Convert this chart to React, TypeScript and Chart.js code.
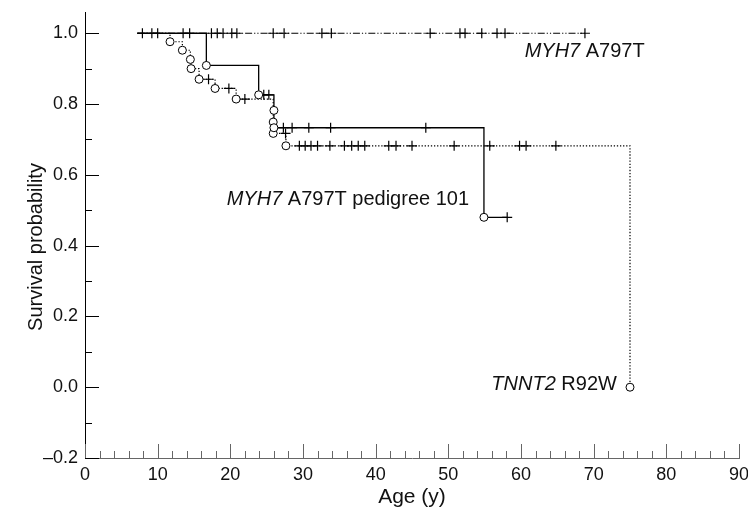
import React, { useEffect, useRef } from 'react';
import { Chart, registerables } from 'chart.js';

Chart.register(...registerables);

const FONT = "'Liberation Sans', Arial, Helvetica, sans-serif";

// Axis tick labels
const xTickValues = [0, 10, 20, 30, 40, 50, 60, 70, 80, 90];
const yTickValues = [-0.2, 0, 0.2, 0.4, 0.6, 0.8, 1.0];
const yTitle = 'Survival probability';
const xTitle = 'Age (y)';

// MYH7 A797T (all carriers): no events, survival stays at 1.0
const myh7Start = 7.2;
const myh7End = 68.8;
const myh7Censored = [7.9, 9.2, 10.0, 13.5, 14.4, 17.4, 18.2, 19.0, 20.2, 20.9, 25.9, 27.4, 32.6, 33.9, 47.5, 51.6, 52.3, 54.6, 56.7, 57.8, 68.8];

// MYH7 A797T pedigree 101
const pedStart = 7.2;
const pedEnd = 58.1;
const pedEventAges = [16.7, 23.9, 26.0, 26.0, 54.9];
const pedEventSurv = [0.909, 0.826, 0.782, 0.733, 0.48];
const pedCensored = [24.6, 25.3, 27.3, 28.5, 30.8, 33.8, 46.9, 58.1];

// TNNT2 R92W
const tnntStart = 7.2;
const tnntEventAges = [11.7, 13.4, 14.5, 14.6, 15.7, 17.9, 20.8, 25.9, 25.9, 27.65, 75.0];
const tnntEventSurv = [0.976, 0.952, 0.926, 0.9, 0.87, 0.844, 0.814, 0.749, 0.717, 0.682, 0.0];
const tnntCensored = [17.0, 19.8, 22.0, 27.6, 29.5, 30.3, 31.1, 32.0, 33.7, 35.7, 36.7, 37.6, 38.5, 41.8, 42.8, 45.0, 50.8, 55.7, 59.8, 60.7, 64.8];

// Text labels placed in data coordinates
const curveLabels = [
  { italic: 'MYH7', rest: ' A797T', x: 60.5, y: 0.932, align: 'left' },
  { italic: 'MYH7', rest: ' A797T pedigree 101', x: 19.5, y: 0.514, align: 'left' },
  { italic: 'TNNT2', rest: ' R92W', x: 73.2, y: -0.008, align: 'right' },
];

function survAt(t: number, ages: number[], surv: number[]) {
  let s = 1;
  for (let i = 0; i < ages.length; i++) if (ages[i] <= t) s = surv[i];
  return s;
}

function stepPoints(start: number, ages: number[], surv: number[], end?: number) {
  const pts = [{ x: start, y: 1 }];
  ages.forEach((a, i) => pts.push({ x: a, y: surv[i] }));
  if (end !== undefined && end > ages[ages.length - 1]) pts.push({ x: end, y: surv[surv.length - 1] });
  return pts;
}

const axisTicksPlugin = {
  id: 'axisTicks',
  afterDraw(chart: any) {
    const { ctx, chartArea, scales } = chart;
    const xs = scales.x;
    const ys = scales.y;
    ctx.save();
    // y ticks (inward)
    ctx.strokeStyle = '#000';
    ctx.lineWidth = 1;
    for (let i = 0; i <= 12; i++) {
      const v = -0.2 + i * 0.1;
      const py = Math.round(ys.getPixelForValue(v)) + 0.5;
      const len = i % 2 === 0 ? 14 : 7;
      ctx.beginPath();
      ctx.moveTo(chartArea.left, py);
      ctx.lineTo(chartArea.left + len, py);
      ctx.stroke();
    }
    // x ticks (inward)
    ctx.strokeStyle = '#666';
    for (let a = 0; a <= 90; a += 2) {
      const px = Math.round(xs.getPixelForValue(a)) + 0.5;
      const len = a % 10 === 0 ? 14 : 7;
      ctx.beginPath();
      ctx.moveTo(px, chartArea.bottom);
      ctx.lineTo(px, chartArea.bottom - len);
      ctx.stroke();
    }
    // y axis title
    ctx.fillStyle = '#111';
    ctx.font = `20px ${FONT}`;
    ctx.textAlign = 'center';
    ctx.textBaseline = 'alphabetic';
    ctx.save();
    ctx.translate(42, (chartArea.top + chartArea.bottom) / 2 + 12);
    ctx.rotate(-Math.PI / 2);
    ctx.fillText(yTitle, 0, 0);
    ctx.restore();
    // curve labels
    const itFont = `italic 20px ${FONT}`;
    const nFont = `20px ${FONT}`;
    curveLabels.forEach((l) => {
      ctx.font = itFont;
      const w1 = ctx.measureText(l.italic).width;
      ctx.font = nFont;
      const w2 = ctx.measureText(l.rest).width;
      const px = xs.getPixelForValue(l.x);
      const py = ys.getPixelForValue(l.y);
      const x0 = l.align === 'right' ? px - w1 - w2 : px;
      ctx.textAlign = 'left';
      ctx.font = itFont;
      ctx.fillText(l.italic, x0, py);
      ctx.font = nFont;
      ctx.fillText(l.rest, x0 + w1, py);
    });
    ctx.restore();
  },
};

export default function App() {
  const ref = useRef<HTMLCanvasElement>(null);

  useEffect(() => {
    if (!ref.current) return;
    const lineBase = { showLine: true, pointRadius: 0, stepped: 'before' as const, borderColor: '#000', fill: false, order: 2 };
    const crossBase = { showLine: false, pointStyle: 'cross', pointRadius: 5, borderColor: '#000', pointBorderWidth: 1.2, backgroundColor: '#000', order: 1 };
    const circleBase = { showLine: false, pointStyle: 'circle', pointRadius: 4, borderColor: '#000', pointBorderWidth: 1, backgroundColor: '#fff', order: 0 };

    const chart = new Chart(ref.current, {
      type: 'scatter',
      data: {
        datasets: [
          { ...lineBase, data: [{ x: myh7Start, y: 1 }, { x: myh7End, y: 1 }], borderWidth: 1.1, borderDash: [7, 2, 1.2, 2, 1.2, 2] },
          { ...lineBase, data: stepPoints(pedStart, pedEventAges, pedEventSurv, pedEnd), borderWidth: 1.3 },
          { ...lineBase, data: stepPoints(tnntStart, tnntEventAges, tnntEventSurv), borderWidth: 1.2, borderDash: [1.3, 1.8], borderColor: '#000' },
          { ...crossBase, data: myh7Censored.map((a) => ({ x: a, y: 1 })) },
          { ...crossBase, data: pedCensored.map((a) => ({ x: a, y: survAt(a, pedEventAges, pedEventSurv) })) },
          { ...crossBase, data: tnntCensored.map((a) => ({ x: a, y: survAt(a, tnntEventAges, tnntEventSurv) })) },
          { ...circleBase, data: pedEventAges.map((a, i) => ({ x: a, y: pedEventSurv[i] })) },
          { ...circleBase, data: tnntEventAges.map((a, i) => ({ x: a, y: tnntEventSurv[i] })) },
        ] as any,
      },
      options: {
        animation: false,
        responsive: true,
        maintainAspectRatio: false,
        events: [],
        layout: { padding: { top: 12, right: 9, left: 0, bottom: 0 } },
        plugins: { legend: { display: false }, tooltip: { enabled: false } },
        scales: {
          x: {
            type: 'linear',
            min: 0,
            max: 90,
            grid: { display: false, drawTicks: false },
            border: { display: true, color: '#666', width: 1 },
            afterBuildTicks: (s: any) => { s.ticks = xTickValues.map((v) => ({ value: v })); },
            afterFit: (s: any) => { s.height = 55; s.paddingLeft = 0; s.paddingRight = 0; },
            ticks: { color: '#111', font: { family: FONT, size: 18 }, padding: 6, maxRotation: 0, autoSkip: false, callback: (v: any) => String(v) },
            title: { display: true, text: xTitle, color: '#111', font: { family: FONT, size: 21 }, padding: { top: 0, bottom: 3 } },
          },
          y: {
            type: 'linear',
            min: -0.2,
            max: 1.06,
            grid: { display: false, drawTicks: false },
            border: { display: true, color: '#000', width: 1 },
            afterBuildTicks: (s: any) => { s.ticks = yTickValues.map((v) => ({ value: v })); },
            afterFit: (s: any) => { s.width = 85; s.paddingTop = 0; s.paddingBottom = 0; },
            ticks: {
              color: '#111',
              font: { family: FONT, size: 18 },
              padding: 7,
              autoSkip: false,
              callback: (v: any) => (v < 0 ? '\u2013' + Math.abs(v).toFixed(1) : Number(v).toFixed(1)),
            },
            title: { display: false },
          },
        },
      },
      plugins: [axisTicksPlugin],
    });
    return () => chart.destroy();
  }, []);

  return (
    <div style={{ position: 'fixed', left: 0, top: 0, width: 748, height: 513, background: '#fff' }}>
      <canvas ref={ref} />
    </div>
  );
}
